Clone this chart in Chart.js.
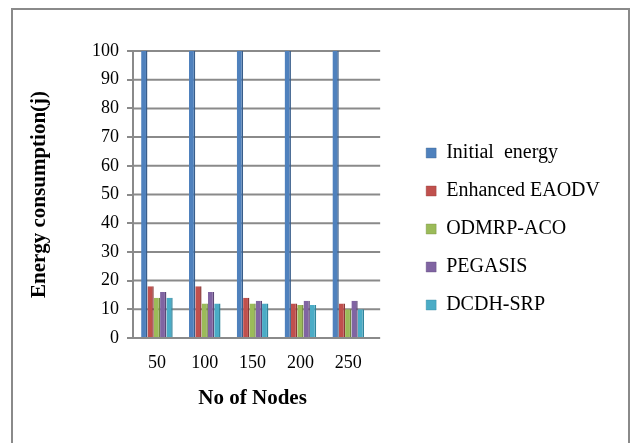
<!DOCTYPE html>
<html>
<head>
<meta charset="utf-8">
<script src="https://cdn.jsdelivr.net/npm/chart.js@4/dist/chart.umd.min.js"></script>
<style>
  html, body { margin: 0; padding: 0; background: #fff; }
  #wrap { position: relative; width: 632px; height: 443px; overflow: hidden; }
  #frame { position: absolute; left: 11px; top: 8px; width: 619px; height: 445px; border: 2px solid #8a8a8a; box-sizing: border-box; }
  canvas { position: absolute; left: 0; top: 0; }
</style>
</head>
<body>
<div id="wrap">
  <div id="frame"></div>
  <canvas id="c" width="632" height="443"></canvas>
</div>
<script>
const categories = ['50', '100', '150', '200', '250'];
const seriesNames = ['Initial  energy', 'Enhanced EAODV', 'ODMRP-ACO', 'PEGASIS', 'DCDH-SRP'];
const initialEnergy = [100, 100, 100, 100, 100];
const enhancedEAODV = [18, 18, 14, 12, 12];
const odmrpACO = [14, 12, 12, 11.5, 10];
const pegasis = [16, 16, 13, 13, 13];
const dcdhSRP = [14, 12, 12, 11.5, 10];
const yTicks = [0, 10, 20, 30, 40, 50, 60, 70, 80, 90, 100];

const fills = ['#4F81BD', '#C0504D', '#9BBB59', '#8064A2', '#4BACC6'];
const sides = ['#385D8A', '#8C3836', '#71893F', '#5C4776', '#31849B'];
const values = [initialEnergy, enhancedEAODV, odmrpACO, pegasis, dcdhSRP];

const serif = "'Liberation Serif', 'Times New Roman', serif";
const GRID = '#8a8a8a';

const wallPlugin = {
  id: 'wall',
  beforeDatasetsDraw(chart) {
    const {ctx, chartArea, scales} = chart;
    const y = scales.y;
    ctx.save();
    ctx.strokeStyle = GRID;
    ctx.lineWidth = 2;
    yTicks.forEach(v => {
      const py = y.getPixelForValue(v);
      ctx.beginPath();
      ctx.moveTo(chartArea.left, py);
      ctx.lineTo(chartArea.right + 8, py);
      ctx.stroke();
    });
    ctx.restore();
  }
};

new Chart(document.getElementById('c'), {
  type: 'bar',
  data: {
    labels: categories,
    datasets: values.map((d, i) => ({
      label: seriesNames[i],
      data: d,
      backgroundColor: fills[i],
      borderColor: sides[i],
      borderWidth: {top: 0, left: 0, right: 1.5, bottom: 0},
      borderSkipped: false,
      categoryPercentage: 0.66,
      barPercentage: 1.0
    }))
  },
  options: {
    responsive: false,
    animation: false,
    layout: { padding: { top: 51, left: 0, right: 22, bottom: 36 } },
    plugins: {
      tooltip: { enabled: false },
      legend: {
        position: 'right',
        align: 'center',
        maxWidth: 400,
        labels: {
          boxWidth: 10,
          boxHeight: 10,
          padding: 18,
          color: '#000',
          font: { family: serif, size: 20 }
        }
      }
    },
    scales: {
      x: {
        grid: { display: false },
        border: { display: true, color: GRID, width: 2 },
        ticks: { color: '#000', font: { family: serif, size: 18 }, padding: 6 },
        title: {
          display: true, text: 'No of Nodes', color: '#000',
          font: { family: serif, size: 21, weight: 'bold' },
          padding: { top: 0, bottom: -4 }
        },
        afterFit(s) { s.height = 69; }
      },
      y: {
        min: 0, max: 100,
        afterBuildTicks(s) { s.ticks = yTicks.map(v => ({ value: v })); },
        grid: { display: true, drawOnChartArea: false, drawTicks: true, tickLength: 6, color: GRID, lineWidth: 2 },
        border: { display: true, color: GRID, width: 2 },
        ticks: { color: '#000', font: { family: serif, size: 18 }, padding: 8 },
        title: {
          display: true, text: 'Energy consumption(j)', color: '#000',
          font: { family: serif, size: 21, weight: 'bold' },
          padding: { top: 27, bottom: 0 }
        },
        afterFit(s) { s.width = 133; }
      },
      y2: {
        position: 'right',
        display: true,
        grid: { display: false },
        border: { display: false },
        ticks: { display: false },
        afterFit(s) { s.width = 36; }
      }
    }
  },
  plugins: [wallPlugin]
});
</script>
</body>
</html>
